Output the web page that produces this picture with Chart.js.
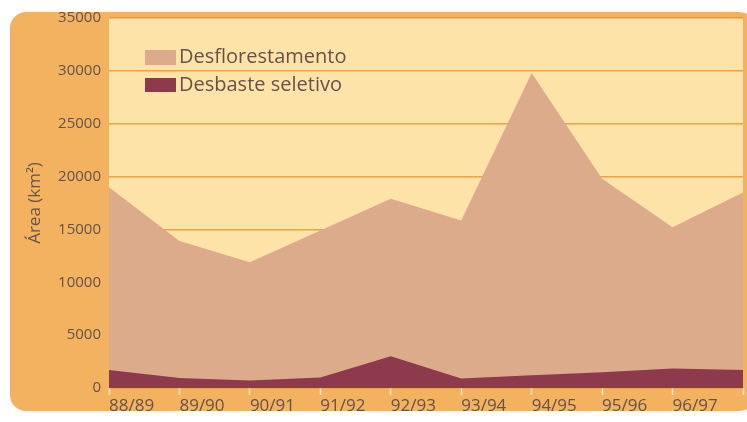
<!DOCTYPE html>
<html>
<head>
<meta charset="utf-8">
<script src="https://cdn.jsdelivr.net/npm/chart.js@4/dist/chart.umd.min.js"></script>
<style>
  html, body { margin: 0; padding: 0; background: #fff; }
  #wrap { width: 747px; height: 422px; }
</style>
</head>
<body>
<div id="wrap"><canvas id="grafico" width="747" height="422"></canvas></div>
<script>
// periodos (o ultimo ponto nao tem rotulo no original)
var periodos = ['88/89', '89/90', '90/91', '91/92', '92/93', '93/94', '94/95', '95/96', '96/97', '97/98']
var desflorestamento = [19000, 13900, 11900, 14900, 17900, 15850, 29800, 19800, 15200, 18500]
var desbaste = [1700, 950, 700, 1000, 3000, 900, 1200, 1500, 1850, 1700]
var yTicks = [0, 5000, 10000, 15000, 20000, 25000, 30000, 35000]

var corTexto = '#66524a'
var corDesfl = '#dbab8c'
var corDesb = '#8d3a4c'

// fundo laranja arredondado + area do grafico creme
var fundo = {
    id: 'fundo',
    beforeDraw: function(chart) {
        var ctx = chart.ctx, a = chart.chartArea
        ctx.save()
        ctx.fillStyle = '#ffffff'
        ctx.fillRect(0, 0, chart.width, chart.height)
        var x = 10, y = 12, w = 745, h = 399, r = 16
        ctx.fillStyle = '#f2b260'
        ctx.beginPath()
        ctx.moveTo(x + r, y)
        ctx.lineTo(x + w - r, y)
        ctx.arcTo(x + w, y, x + w, y + r, r)
        ctx.lineTo(x + w, y + h - r)
        ctx.arcTo(x + w, y + h, x + w - r, y + h, r)
        ctx.lineTo(x + r, y + h)
        ctx.arcTo(x, y + h, x, y + h - r, r)
        ctx.lineTo(x, y + r)
        ctx.arcTo(x, y, x + r, y, r)
        ctx.closePath()
        ctx.fill()
        ctx.fillStyle = '#fde3a7'
        ctx.fillRect(a.left, a.top, a.right - a.left, a.bottom - a.top)
        ctx.restore()
    }
}

// legenda empilhada dentro da area do grafico
var legenda = {
    id: 'legenda',
    afterDraw: function(chart) {
        var ctx = chart.ctx
        var itens = [
            { txt: 'Desflorestamento', cor: corDesfl, y: 50, h: 15 },
            { txt: 'Desbaste seletivo', cor: corDesb, y: 78, h: 14 }
        ]
        ctx.save()
        ctx.font = '20px "Open Sans", sans-serif'
        ctx.textBaseline = 'middle'
        itens.forEach(function(it) {
            ctx.fillStyle = it.cor
            ctx.fillRect(145, it.y, 31, it.h)
            ctx.fillStyle = corTexto
            ctx.fillText(it.txt, 179, it.y + it.h / 2)
        })
        ctx.restore()
    }
}

var ctx = document.getElementById('grafico').getContext('2d')
var grafico = new Chart(ctx, {
    type: 'line',
    data: {
        labels: periodos,
        datasets: [{
            label: 'Desbaste seletivo',
            data: desbaste,
            backgroundColor: corDesb,
            borderWidth: 0,
            pointRadius: 0,
            fill: 'origin',
            order: 0
        }, {
            label: 'Desflorestamento',
            data: desflorestamento,
            backgroundColor: corDesfl,
            borderWidth: 0,
            pointRadius: 0,
            fill: 'origin',
            order: 1
        }]
    },
    options: {
        responsive: false,
        animation: false,
        layout: {
            padding: { top: 18, right: 4, left: 0, bottom: 0 }
        },
        plugins: {
            legend: { display: false },
            tooltip: { enabled: false }
        },
        scales: {
            x: {
                offset: false,
                border: { display: false },
                grid: {
                    drawOnChartArea: false,
                    drawTicks: true,
                    tickLength: 7,
                    tickColor: '#fbe8c6',
                    tickWidth: 1.5
                },
                ticks: {
                    align: 'start',
                    autoSkip: false,
                    maxRotation: 0,
                    padding: 1,
                    color: corTexto,
                    font: { family: 'Open Sans', size: 17 },
                    callback: function(v, i) {
                        return i < periodos.length - 1 ? periodos[i] : ''
                    }
                },
                afterFit: function(s) { s.height = 34 }
            },
            y: {
                min: 0,
                max: 35000,
                z: 1,
                border: { display: false },
                afterBuildTicks: function(s) {
                    s.ticks = yTicks.map(function(v) { return { value: v } })
                },
                grid: {
                    color: 'rgba(236, 138, 40, 0.75)',
                    lineWidth: 1.5,
                    drawTicks: false
                },
                ticks: {
                    padding: 8,
                    color: corTexto,
                    font: { family: 'Open Sans', size: 15 },
                    callback: function(v) { return String(v) }
                },
                title: {
                    display: true,
                    text: 'Área (km²)',
                    color: corTexto,
                    font: { family: 'Open Sans', size: 17 },
                    padding: { top: 25, bottom: 0 }
                },
                afterFit: function(s) { s.width = 109 }
            }
        }
    },
    plugins: [fundo, legenda]
})
</script>
</body>
</html>
